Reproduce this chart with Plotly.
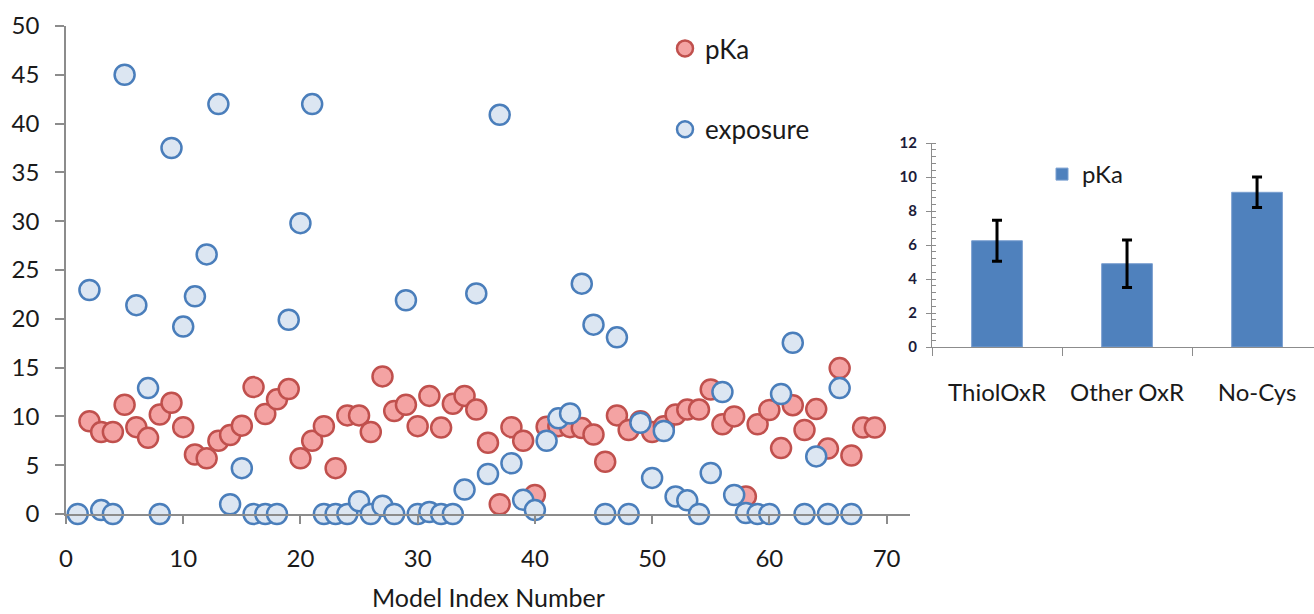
import plotly.graph_objects as go

# ---- data: main scatter ----
model_index = list(range(1, 70))
pka = [None, 9.5, 8.4, 8.4, 11.2, 8.9, 7.8, 10.2, 11.4, 8.9,
       6.1, 5.7, 7.5, 8.1, 9.05, 13.0, 10.25, 11.75, 12.8, 5.7,
       7.5, 9.0, 4.7, 10.1, 10.1, 8.4, 14.1, 10.55, 11.2, 9.0,
       12.1, 8.85, 11.3, 12.1, 10.7, 7.3, 1.0, 8.9, 7.5, 1.95,
       8.95, 9.0, 8.9, 8.8, 8.15, 5.35, 10.1, 8.6, 9.5, 8.4,
       9.0, 10.2, 10.7, 10.7, 12.75, 9.2, 10.0, 1.8, 9.2, 10.65,
       6.75, 11.15, 8.6, 10.75, 6.7, 14.95, 6.0, 8.85, 8.85]
exposure = [0, 22.95, 0.4, 0, 45.0, 21.4, 12.9, 0, 37.5, 19.2,
            22.3, 26.6, 42.0, 1.0, 4.7, 0, 0, 0, 19.9, 29.8,
            42.0, 0, 0, 0, 1.3, 0, 0.85, 0, 21.9, 0,
            0.2, 0, 0, 2.5, 22.6, 4.1, 40.9, 5.2, 1.45, 0.4,
            7.5, 9.8, 10.3, 23.6, 19.4, 0, 18.1, 0, 9.35, 3.7,
            8.5, 1.8, 1.4, 0, 4.2, 12.5, 1.95, 0.1, 0, 0,
            12.3, 17.55, 0, 5.9, 0, 12.9, 0, None, None]
main_x_ticks = [0, 10, 20, 30, 40, 50, 60, 70]
main_y_ticks = [0, 5, 10, 15, 20, 25, 30, 35, 40, 45, 50]

# ---- data: inset bar chart ----
groups = ["ThiolOxR", "Other OxR", "No-Cys"]
group_pka = [6.25, 4.9, 9.1]
group_err = [1.2, 1.4, 0.9]
inset_y_ticks = [0, 2, 4, 6, 8, 10, 12]

W, H = 1314, 614
FONT = "Lato, 'Open Sans', sans-serif"

def px_x(p):
    return p / W

def px_y(p):
    return (H - p) / H

fig = go.Figure()

fig.add_trace(go.Scatter(
    x=model_index, y=pka, mode="markers", name="pKa",
    marker=dict(size=20, color="#F4A3A3", line=dict(color="#C0504D", width=2.5)),
    cliponaxis=False, legendgroup="a", xaxis="x", yaxis="y",
))
fig.add_trace(go.Scatter(
    x=model_index, y=exposure, mode="markers", name="exposure",
    marker=dict(size=20, color="#DCE6F2", line=dict(color="#4A7EBB", width=2.5)),
    cliponaxis=False, legendgroup="b", xaxis="x", yaxis="y",
))
fig.add_trace(go.Bar(
    x=groups, y=group_pka, name="pKa", width=0.39,
    marker=dict(color="#4F81BD", line=dict(color="#7A9FD0", width=1)),
    error_y=dict(type="data", array=group_err, color="black", thickness=3, width=5),
    xaxis="x2", yaxis="y2", legend="legend2",
))

axis_gray = "#8C8C8C"
fig.update_layout(
    width=W, height=H,
    margin=dict(l=0, r=0, t=0, b=0),
    paper_bgcolor="white", plot_bgcolor="rgba(0,0,0,0)",
    font=dict(family=FONT, color="#1a1a1a"),
    xaxis=dict(
        domain=[px_x(66), px_x(910)], range=[0, 72],
        tickvals=main_x_ticks, showgrid=False, zeroline=False,
        showline=True, linecolor=axis_gray, linewidth=1.5,
        ticks="outside", ticklen=8, tickwidth=1.5, tickcolor=axis_gray,
        tickfont=dict(size=24, family=FONT, color="#1a1a1a"),
        ticklabelstandoff=14, automargin=False, anchor="y",
    ),
    yaxis=dict(
        domain=[px_y(514), px_y(26)], range=[0, 50],
        tickvals=main_y_ticks, showgrid=False, zeroline=False,
        showline=True, linecolor=axis_gray, linewidth=1.5,
        ticks="outside", ticklen=9, tickwidth=1.5, tickcolor=axis_gray,
        tickfont=dict(size=24, family=FONT, color="#1a1a1a"),
        ticklabelstandoff=11, automargin=False, anchor="x",
    ),
    xaxis2=dict(
        domain=[px_x(932), 1.0], range=[-0.5, 2.438],
        type="category", showgrid=False, zeroline=False,
        showline=True, linecolor=axis_gray, linewidth=1.2,
        ticks="outside", tickson="boundaries", ticklen=8, tickcolor=axis_gray,
        tickfont=dict(size=24, family=FONT, color="#1a1a1a"),
        ticklabelstandoff=24, automargin=False, anchor="y2",
    ),
    yaxis2=dict(
        domain=[px_y(347), px_y(143)], range=[0, 12],
        tickvals=inset_y_ticks, showgrid=False, zeroline=False,
        showline=True, linecolor=axis_gray, linewidth=1.2,
        ticks="outside", ticklen=5, tickcolor=axis_gray,
        minor=dict(dtick=0.4, ticks="inside", ticklen=4, tickcolor=axis_gray),
        tickfont=dict(size=15, family=FONT, color="#1c1c3a", weight="bold"),
        ticklabelstandoff=6, automargin=False, anchor="x2",
    ),
    legend=dict(
        x=px_x(665), y=px_y(25), xanchor="left", yanchor="top",
        font=dict(size=26, family=FONT, color="#1a1a1a"),
        traceorder="grouped", tracegroupgap=44,
        bgcolor="rgba(0,0,0,0)", borderwidth=0,
    ),
    legend2=dict(
        x=px_x(1042), y=px_y(152), xanchor="left", yanchor="top",
        font=dict(size=24, family=FONT, color="#1a1a1a"),
        bgcolor="rgba(0,0,0,0)", borderwidth=0,
    ),
    showlegend=True,
    annotations=[dict(
        text="Model Index Number", x=px_x(488), y=px_y(597),
        xref="paper", yref="paper", xanchor="center", yanchor="middle",
        showarrow=False, font=dict(size=25, family=FONT, color="#1a1a1a"),
    )],
)

fig.write_html(
    "out.html",
    config={"displayModeBar": False},
    post_script="document.body.style.margin='0px';document.body.style.overflow='hidden';",
)
